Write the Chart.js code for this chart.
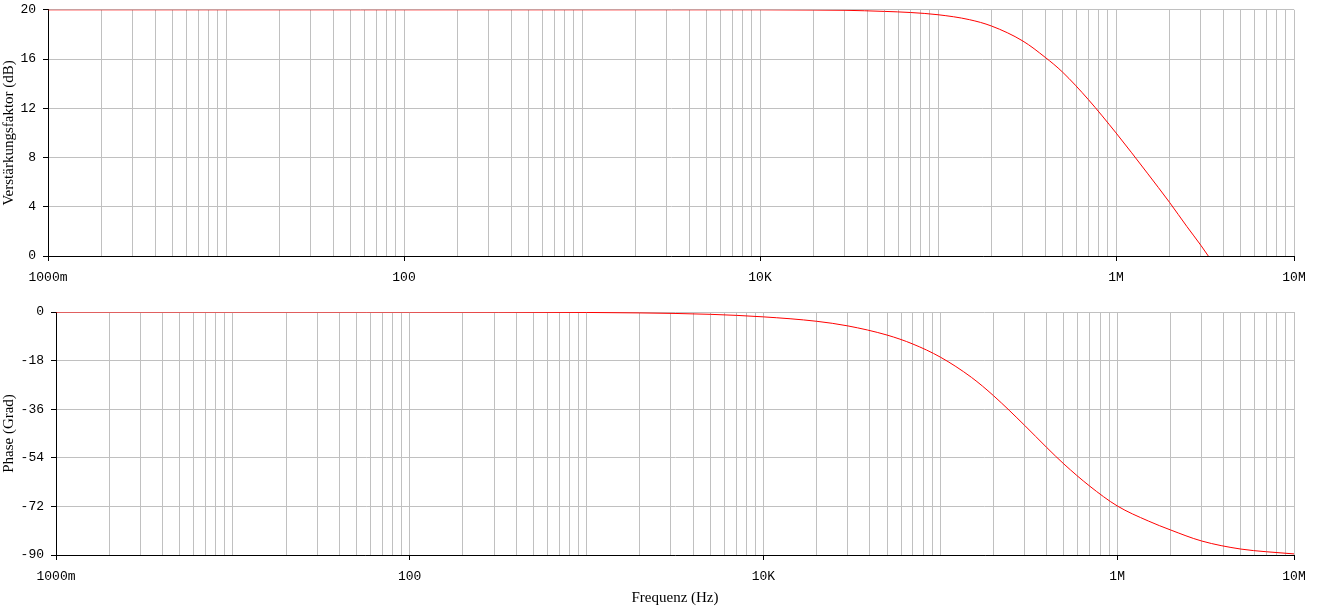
<!DOCTYPE html>
<html>
<head>
<meta charset="utf-8">
<script src="https://cdn.jsdelivr.net/npm/chart.js@4.4.1/dist/chart.umd.min.js"></script>
<style>
  body { margin: 0; background: #fff; width: 1323px; height: 607px; overflow: hidden; }
  #c1 { position: absolute; left: 0; top: -5px; }
  #c2 { position: absolute; left: 0; top: 290px; }
</style>
</head>
<body>
<canvas id="c1" width="1323" height="295"></canvas>
<canvas id="c2" width="1323" height="317"></canvas>
<script>
const freqGain = [1, 10, 100, 1000, 5000, 10000, 20000, 30000, 50000, 70000, 100000, 150000, 200000, 300000, 400000, 500000, 700000, 1000000, 1500000, 2000000, 2500000, 3000000, 3300000];
const gainDb   = [20, 20, 20, 20, 20, 20, 19.98, 19.96, 19.87, 19.78, 19.6, 19.2, 18.68, 17.46, 16.14, 14.95, 12.7, 10.0, 6.73, 4.35, 2.4, 0.86, 0];

const freqPhase = [1, 10, 100, 1000, 2000, 5000, 10000, 20000, 30000, 50000, 70000, 100000, 150000, 200000, 300000, 400000, 500000, 700000, 1000000, 1500000, 2000000, 3000000, 5000000, 7000000, 10000000];
const phaseDeg  = [0, 0, -0.02, -0.17, -0.34, -0.86, -1.8, -3.44, -5.15, -8.54, -11.87, -16.7, -24.2, -31.0, -42.0, -50.2, -56.3, -64.5, -71.8, -77.4, -80.7, -84.8, -87.8, -88.8, -89.6];

const xLabels = {1: '1000m', 100: '100', 10000: '10K', 1000000: '1M', 10000000: '10M'};
const gainTicks = [0, 4, 8, 12, 16, 20];
const phaseTicks = [-90, -72, -54, -36, -18, 0];

const gridCol = '#c0c0c0';
const tickFont = { family: 'Liberation Mono', size: 13 };
const titleFont = { family: 'Liberation Serif', size: 15 };

function logTicks() {
  const t = [];
  for (let e = 0; e < 7; e++) {
    for (let m = 1; m < 10; m++) t.push({ value: m * Math.pow(10, e) });
  }
  t.push({ value: 1e7 });
  return t;
}

function xScale(height, title) {
  return {
    type: 'logarithmic',
    min: 1, max: 1e7,
    afterBuildTicks: s => { s.ticks = logTicks(); },
    afterFit: s => { s.height = height; },
    grid: {
      color: gridCol,
      tickLength: 5,
      tickColor: ctx => (ctx.tick && xLabels[ctx.tick.value]) ? '#000' : 'rgba(0,0,0,0)'
    },
    border: { color: '#000' },
    ticks: {
      autoSkip: false, maxRotation: 0, padding: 9,
      color: '#000', font: tickFont,
      callback: v => xLabels[v] || ''
    },
    title: { display: !!title, text: title || '', color: '#000', font: titleFont, padding: { top: 0, bottom: 0 } }
  };
}

function yScale(width, min, max, ticksArr, title) {
  return {
    min: min, max: max,
    afterBuildTicks: s => { s.ticks = ticksArr.map(v => ({ value: v })); },
    afterFit: s => { s.width = width; },
    grid: { color: gridCol, tickLength: 5, tickColor: '#000' },
    border: { color: '#000' },
    ticks: { color: '#000', font: tickFont, padding: 7 },
    title: { display: true, text: title, color: '#000', font: titleFont, padding: 0 }
  };
}

function lineSet(xs, ys) {
  return {
    data: xs.map((f, i) => ({ x: f, y: ys[i] })),
    borderColor: '#ff0000',
    borderWidth: 1,
    pointRadius: 0,
    cubicInterpolationMode: 'monotone',
    fill: false
  };
}

const common = {
  responsive: false,
  animation: false,
  plugins: { legend: { display: false }, tooltip: { enabled: false } }
};

new Chart(document.getElementById('c1').getContext('2d'), {
  type: 'line',
  data: { datasets: [lineSet(freqGain, gainDb)] },
  options: Object.assign({}, common, {
    layout: { padding: { left: 0, top: 14, right: 29, bottom: 0 } },
    scales: {
      x: xScale(34, null),
      y: yScale(48, 0, 20, gainTicks, 'Verstärkungsfaktor (dB)')
    }
  })
});

new Chart(document.getElementById('c2').getContext('2d'), {
  type: 'line',
  data: { datasets: [lineSet(freqPhase, phaseDeg)] },
  options: Object.assign({}, common, {
    layout: { padding: { left: 0, top: 22, right: 29, bottom: 0 } },
    scales: {
      x: xScale(52, 'Frequenz (Hz)'),
      y: yScale(56, -90, 0, phaseTicks, 'Phase (Grad)')
    }
  })
});
</script>
</body>
</html>
